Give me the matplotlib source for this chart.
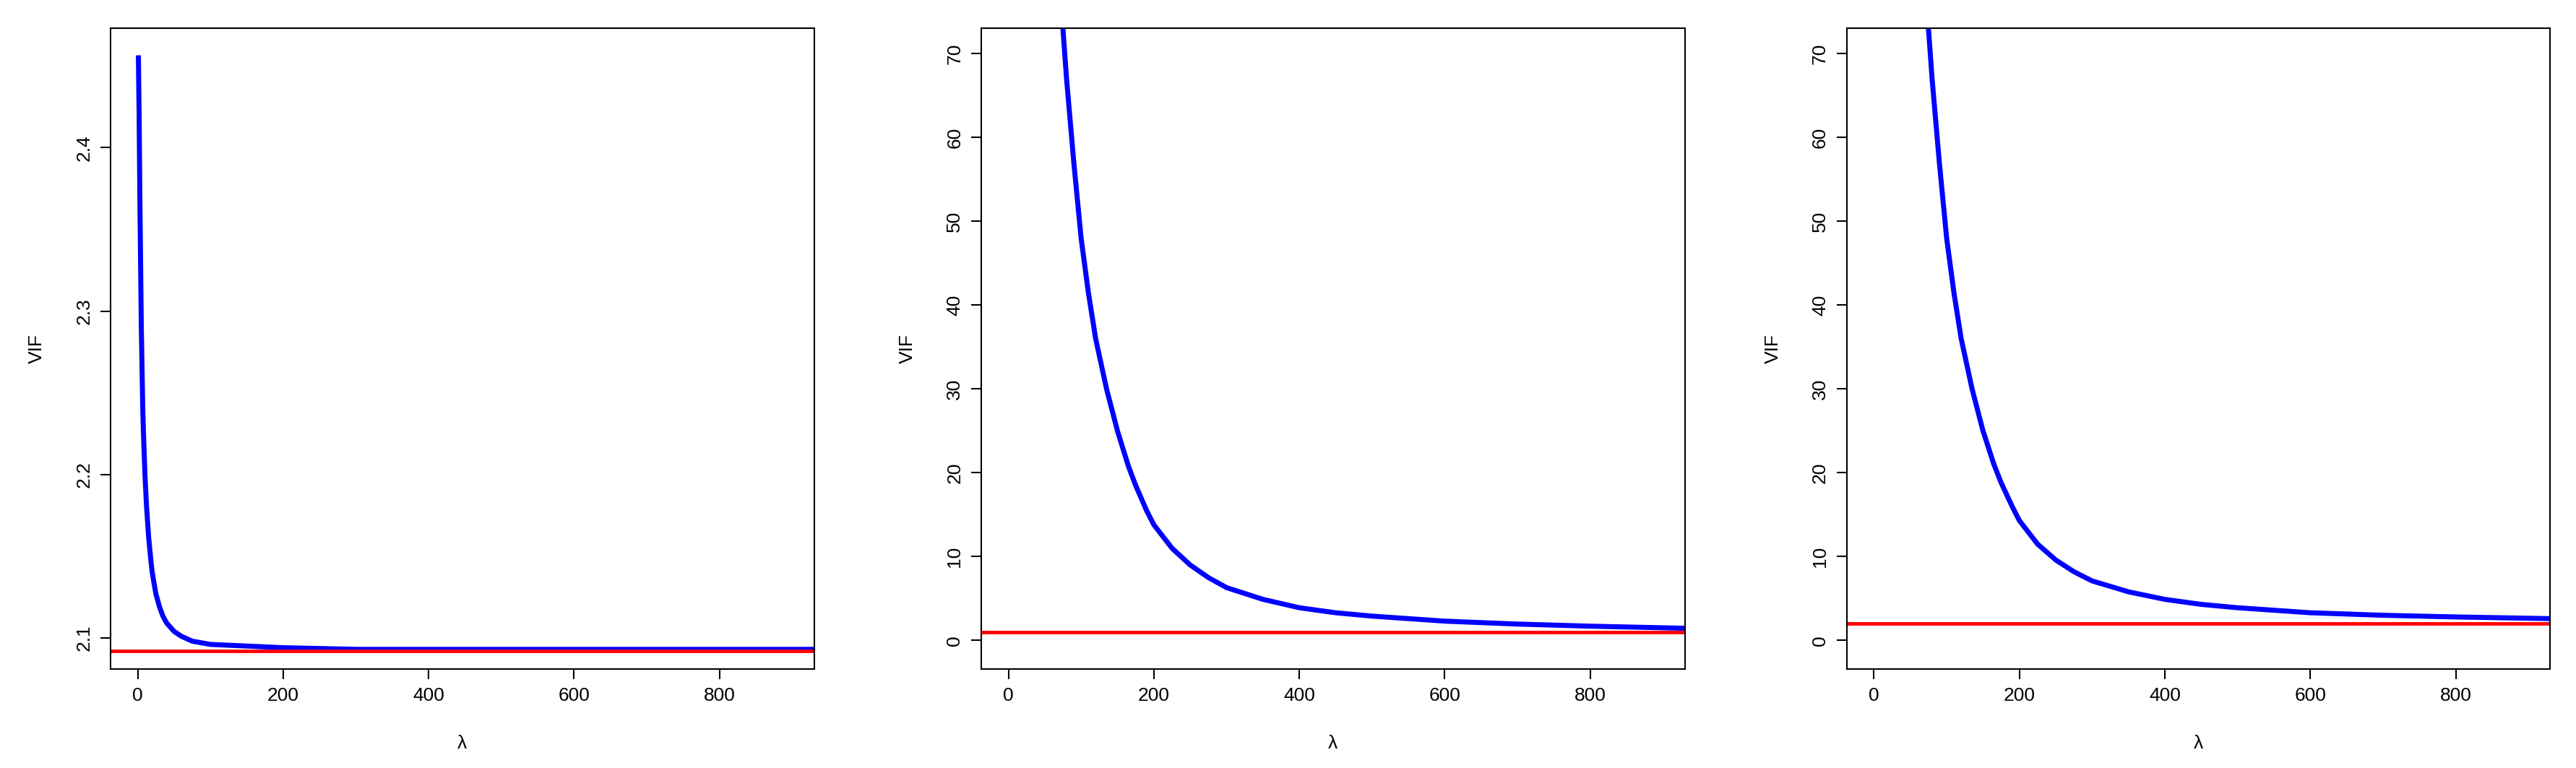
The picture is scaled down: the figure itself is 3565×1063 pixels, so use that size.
import matplotlib
matplotlib.use("Agg")
import matplotlib.pyplot as plt

plt.rcParams['font.family'] = ['Liberation Sans', 'DejaVu Sans']

# panel 1
lam1 = [1, 2, 3, 4, 5, 6, 7, 8, 10, 12, 15, 18, 20, 25, 30, 35, 40, 50, 60, 75, 100, 125, 150, 200, 300, 400, 600, 930]
vif1 = [2.455, 2.42, 2.37, 2.33, 2.29, 2.265, 2.24, 2.225, 2.20, 2.182, 2.162, 2.148, 2.140, 2.127, 2.119, 2.113, 2.109, 2.104, 2.101, 2.098, 2.096, 2.0955, 2.095, 2.094, 2.093, 2.093, 2.093, 2.093]
ref1 = 2.092

# panel 2
lam2 = [75, 80, 85, 90, 100, 110, 120, 135, 150, 165, 175, 190, 200, 225, 250, 275, 300, 350, 400, 450, 500, 600, 700, 800, 930]
vif2 = [73, 67, 62, 57, 48, 41.5, 36, 30, 25, 20.8, 18.5, 15.5, 13.8, 11, 9.0, 7.5, 6.3, 4.9, 3.9, 3.3, 2.9, 2.3, 1.95, 1.7, 1.45]
ref2 = 1.0

# panel 3
lam3 = [75, 80, 85, 90, 100, 110, 120, 135, 150, 165, 175, 190, 200, 225, 250, 275, 300, 350, 400, 450, 500, 600, 700, 800, 930]
vif3 = [73, 67, 62, 57, 48, 41.5, 36, 30, 25, 21, 18.8, 16, 14.3, 11.5, 9.6, 8.2, 7.1, 5.8, 4.9, 4.3, 3.9, 3.3, 3.0, 2.8, 2.6]
ref3 = 2.0

panels = [
    (lam1, vif1, ref1, (2.081, 2.473), [2.1, 2.2, 2.3, 2.4], ['2.1', '2.2', '2.3', '2.4']),
    (lam2, vif2, ref2, (-3.4, 73), list(range(0, 71, 10)), [str(v) for v in range(0, 71, 10)]),
    (lam3, vif3, ref3, (-3.4, 73), list(range(0, 71, 10)), [str(v) for v in range(0, 71, 10)]),
]
lefts = [0.043, 0.381, 0.717]

fig = plt.figure(figsize=(35.65, 10.63), dpi=100)
for left, (x, y, ref, ylim, yt, ytl) in zip(lefts, panels):
    ax = fig.add_axes([left, 0.129, 0.273, 0.834])
    ax.plot(x, y, color='blue', lw=5, solid_joinstyle='round')
    ax.axhline(ref, color='red', lw=3.5)
    ax.set_xlim(-37, 930)
    ax.set_ylim(*ylim)
    ax.set_xticks([0, 200, 400, 600, 800])
    ax.set_yticks(yt)
    ax.set_yticklabels(ytl, rotation=90, va='center')
    ax.tick_params(labelsize=19, length=10, width=1.5, pad=8)
    ax.set_xlabel('λ', fontsize=19, labelpad=30)
    ax.set_ylabel('VIF', fontsize=19, labelpad=30)
    for s in ax.spines.values():
        s.set_linewidth(1.5)

fig.savefig('out.png', dpi=100)
